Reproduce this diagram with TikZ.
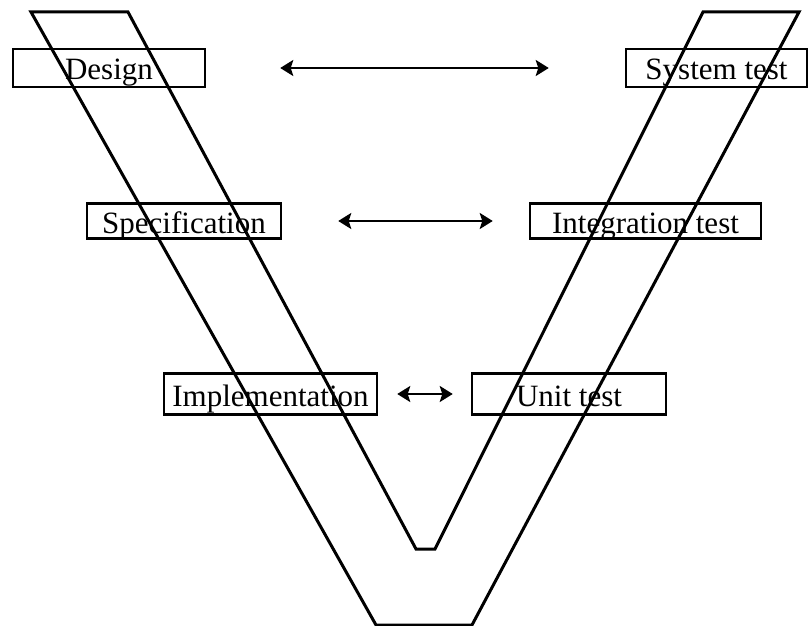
\documentclass[tikz,border=0pt]{standalone}
\usepackage{fontspec}
\setmainfont{Liberation Serif}
\usetikzlibrary{arrows.meta}

\begin{document}
\begin{tikzpicture}[x=1pt, y=-1pt,
  phase/.style={draw=black, line width=2.5pt, inner sep=0pt, text height=24pt, text depth=0pt,
    font=\fontsize{31}{36}\selectfont},
  link/.style={black, line width=2pt,
    {Stealth[length=13pt, width=16pt, inset=2.5pt]}-{Stealth[length=13pt, width=16pt, inset=2.5pt]}}]
\useasboundingbox (0,0) rectangle (809,626);

\node[phase, minimum width=192pt, minimum height=38pt] (design) at (109,68) {Design};
\node[phase, minimum width=181pt, minimum height=38pt] (systest) at (716.5,68) {System test};
\node[phase, minimum width=194pt, minimum height=35pt] (spec) at (184,221) {Specification};
\node[phase, minimum width=231pt, minimum height=35pt] (inttest) at (645.5,221) {Integration test};
\node[phase, minimum width=213pt, minimum height=41pt] (impl) at (270.5,394) {Implementation};
\node[phase, minimum width=194pt, minimum height=41pt] (unittest) at (569,394) {Unit test};

\draw[black, line width=3pt] (31,12) -- (376,625) -- (472,625) -- (799,12) -- (703,12)
  -- (435,549) -- (416,549) -- (128,12) -- cycle;

\draw[link, shorten <=74pt, shorten >=76pt] (design) -- (systest);
\draw[link, shorten <=56pt, shorten >=36pt] (spec) -- (inttest);
\draw[link, shorten <=19pt, shorten >=18pt] (impl) -- (unittest);

\end{tikzpicture}
\end{document}
